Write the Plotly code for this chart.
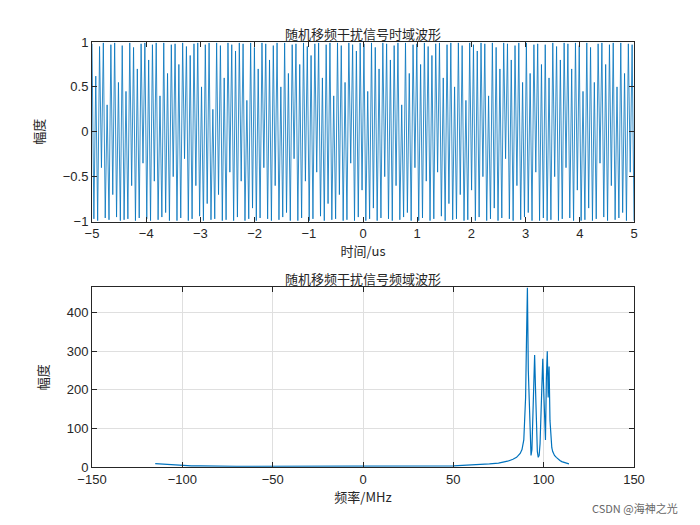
import numpy as np
import plotly.graph_objects as go
from plotly.subplots import make_subplots

# time-domain samples (alternating swing)
sig_amp = [
    0.98, -0.97, 0.62, -0.99, 0.95, -0.4, 0.99, -0.96, 0.3, -0.98, 0.97, -0.7, 0.99, -0.95, 0.55, -0.99,
    0.96, -0.98, 0.45, -0.97, 0.99, -0.6, 0.94, -0.99, 0.7, -0.96, 0.98, -0.35, 0.99, -0.97, 0.8, -0.99,
    0.97, -0.55, 0.99, -0.98, 0.4, -0.95, 0.99, -0.9, 0.65, -0.99, 0.97, -0.5, 0.98, -0.99, 0.75, -0.96,
    0.99, -0.3, 0.95, -0.99, 0.85, -0.97, 0.98, -0.6, 0.99, -0.94, 0.5, -0.99, 0.97, -0.8, 0.99, -0.98,
    0.25, -0.97, 0.99, -0.7, 0.96, -0.99, 0.6, -0.98, 0.99, -0.45, 0.97, -0.99, 0.9, -0.95, 0.99, -0.55,
    0.98, -0.99, 0.35, -0.97, 0.99, -0.85, 0.94, -0.99, 0.7, -0.96, 0.99, -0.4, 0.98, -0.97, 0.8, -0.99,
    0.96, -0.6, 0.99, -0.98, 0.5, -0.95, 0.99, -0.9, 0.65, -0.99, 0.97, -0.3, 0.98, -0.99, 0.75, -0.96,
    0.99, -0.55, 0.95, -0.99, 0.85, -0.97, 0.98, -0.45, 0.99, -0.94, 0.6, -0.99, 0.97, -0.8, 0.99, -0.98,
    0.4, -0.97, 0.99, -0.7, 0.96, -0.99, 0.55, -0.98, 0.99, -0.35, 0.97, -0.99, 0.9, -0.95, 0.99, -0.65,
    0.98, -0.99, 0.45, -0.97, 0.99, -0.85, 0.94, -0.99, 0.7, -0.96, 0.99, -0.5, 0.98, -0.97, 0.8, -0.99,
    0.96, -0.6, 0.99, -0.98, 0.3, -0.95, 0.99, -0.9, 0.65, -0.99, 0.97, -0.4, 0.98, -0.99, 0.75, -0.96,
    0.99, -0.55, 0.95, -0.99, 0.85, -0.97, 0.98, -0.45, 0.99, -0.94, 0.6, -0.99, 0.97, -0.8, 0.99, -0.98,
    0.5, -0.97, 0.99, -0.7, 0.96, -0.99, 0.35, -0.98, 0.99, -0.65, 0.97, -0.99, 0.9, -0.95, 0.99, -0.5,
    0.98, -0.99, 0.4, -0.97, 0.99, -0.85, 0.94, -0.99, 0.7, -0.96, 0.99, -0.3, 0.98, -0.97, 0.8, -0.99,
    0.96, -0.6, 0.99, -0.98, 0.55, -0.95, 0.99, -0.9, 0.65, -0.99, 0.97, -0.45, 0.98, -0.99, 0.75, -0.96,
    0.97, -0.99, 0.6, -0.98, 0.99, -0.5, 0.95, -0.99, 0.8, -0.97, 0.99, -0.4, 0.98, -0.96, 0.7, -0.99,
    0.99, -0.65, 0.96, -0.99, 0.45, -0.98, 0.99, -0.85, 0.94, -0.99, 0.55, -0.97, 0.98, -0.35, 0.99, -0.95,
    0.75, -0.99, 0.97, -0.6, 0.99, -0.98, 0.5, -0.96, 0.99, -0.9, 0.65, -0.99, 0.98, -0.45, 0.97, -0.99,
]
time_us = np.linspace(-5, 5, len(sig_amp))

freq_mhz = [
    -115, -112, -108, -104, -100, -95, -90, -80, -70, -60, -50, -40, -30, -20, -10, 0, 10, 20, 30, 40,
    50, 55, 60, 65, 70, 75, 80, 83, 85, 87, 88, 89, 89.5, 90, 90.5, 91, 91.5, 92, 92.5, 93, 93.5,
    94, 94.5, 95, 95.5, 96, 96.5, 97, 97.5, 98, 98.5, 99, 99.5, 100, 100.5, 101, 101.5, 102, 102.5,
    103, 103.5, 104, 104.5, 105, 106, 107, 108, 109, 110, 111, 112, 113, 114,
]
spec_mag = [
    9, 8, 6, 5, 4, 3, 3, 2, 2, 2, 2, 2, 2, 2, 2, 2, 2, 2, 2, 3,
    3, 4, 5, 6, 8, 10, 15, 20, 25, 35, 45, 70, 120, 180, 330, 465, 250, 150, 60, 30, 45,
    110, 220, 290, 200, 90, 40, 25, 30, 60, 150, 250, 280, 200, 90, 70, 230, 300, 180,
    260, 120, 70, 50, 40, 30, 25, 20, 17, 14, 12, 10, 9, 8,
]

blue = '#0072BD'
fig = make_subplots(rows=2, cols=1, vertical_spacing=0.155,
                    subplot_titles=('随机移频干扰信号时域波形', '随机移频干扰信号频域波形'))

fig.add_trace(go.Scatter(x=time_us, y=sig_amp, mode='lines', line=dict(color=blue, width=0.8),
                         showlegend=False), row=1, col=1)
fig.add_trace(go.Scatter(x=freq_mhz, y=spec_mag, mode='lines', line=dict(color=blue, width=1.2),
                         showlegend=False), row=2, col=1)

axis_style = dict(showline=True, linecolor='#262626', linewidth=1, mirror='ticks', ticks='inside',
                  ticklen=5, tickcolor='#262626', zeroline=False, automargin=False,
                  tickfont=dict(family='Liberation Sans', size=13, color='#262626'))
fig.update_xaxes(**axis_style)
fig.update_yaxes(**axis_style)
fig.update_xaxes(range=[-5, 5], dtick=1, showgrid=False, title_text='时间/us', title_standoff=0,
                 title_font=dict(size=13), row=1, col=1)
fig.update_yaxes(range=[-1, 1], dtick=0.5, showgrid=False, title_text='幅度', title_font=dict(size=13),
                 row=1, col=1)
fig.update_xaxes(range=[-150, 150], dtick=50, showgrid=True, gridcolor='#dfdfdf',
                 title_text='频率/MHz', title_standoff=0, title_font=dict(size=13), row=2, col=1)
fig.update_yaxes(range=[0, 465], dtick=100, showgrid=True, gridcolor='#dfdfdf',
                 title_text='幅度', title_font=dict(size=13), row=2, col=1)

fig.update_annotations(font=dict(family='Noto Sans CJK SC', size=13, color='#262626'), yshift=-3)
fig.update_layout(
    width=700, height=525,
    paper_bgcolor='white', plot_bgcolor='white',
    font=dict(family='Noto Sans CJK SC', size=13, color='#262626'),
    margin=dict(l=84, r=74, t=34, b=66),
)
fig.add_annotation(text='CSDN @海神之光', xref='paper', yref='paper', x=1.085, y=-0.12,
                   showarrow=False, font=dict(size=11, color='#666666'), xanchor='right')

fig.write_html("out.html")
